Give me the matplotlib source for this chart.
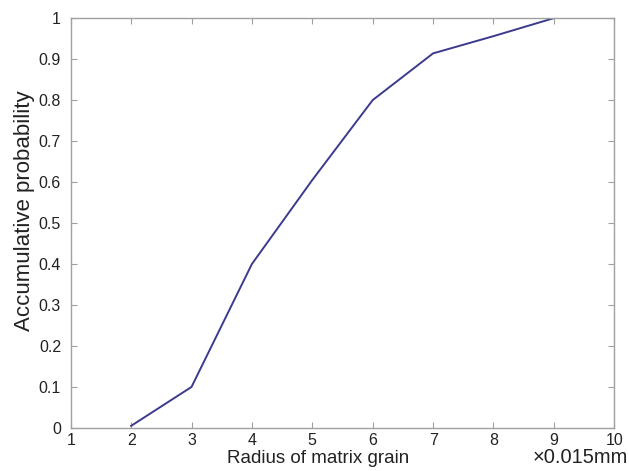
import matplotlib
matplotlib.use("Agg")
import matplotlib.pyplot as plt

### data
radius = [2, 3, 4, 5, 6, 7, 8, 9]
prob = [0.005, 0.10, 0.40, 0.605, 0.80, 0.914, 0.956, 1.0]

xticks = list(range(1, 11))
yticks = [0, 0.1, 0.2, 0.3, 0.4, 0.5, 0.6, 0.7, 0.8, 0.9, 1]
ytick_labels = ["0", "0.1", "0.2", "0.3", "0.4", "0.5", "0.6", "0.7", "0.8", "0.9", "1"]

plt.rcParams['font.family'] = ['Liberation Sans', 'DejaVu Sans']

fig = plt.figure(figsize=(6.29, 4.71), dpi=100)
ax = fig.add_axes([0.1125, 0.0915, 0.864, 0.870])

ax.plot(radius, prob, color="#3b3a8e", linewidth=1.4)

ax.set_xlim(1, 10)
ax.set_ylim(0, 1)
ax.set_xticks(xticks)
ax.set_xticklabels([str(t) for t in xticks])
ax.set_yticks(yticks)
ax.set_yticklabels(ytick_labels)

for s in ax.spines.values():
    s.set_color("#a0a0a0")
    s.set_linewidth(1.0)
ax.tick_params(direction="in", length=4, width=0.8, color="#a0a0a0",
               top=True, right=True, labelsize=11.5, labelcolor="#222222")
ax.tick_params(axis="x", pad=4)
ax.tick_params(axis="y", pad=7)

ax.set_ylabel("Accumulative probability", fontsize=16, color="#222222")
ax.yaxis.set_label_coords(-0.066, 0.53)
fig.text(0.506, 0.018, "Radius of matrix grain", fontsize=13.5, color="#222222", ha="center")
fig.text(0.998, 0.018, "×0.015mm", fontsize=14.5, color="#222222", ha="right")

fig.savefig("out.png", dpi=100)
